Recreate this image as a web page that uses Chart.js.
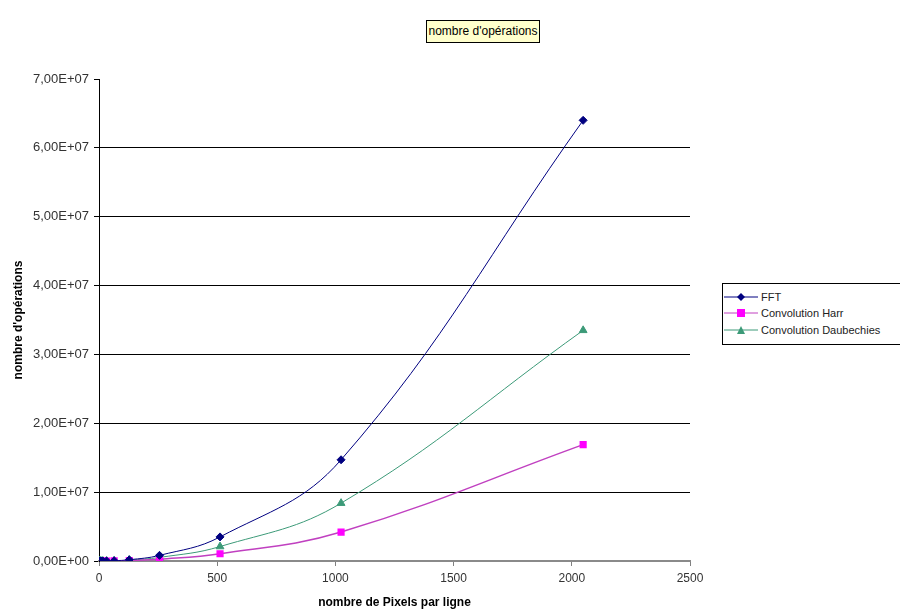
<!DOCTYPE html>
<html>
<head>
<meta charset="utf-8">
<script src="https://cdn.jsdelivr.net/npm/chart.js@4.4.0/dist/chart.umd.min.js"></script>
<style>
  body { margin: 0; background: #fff; }
  #wrap { position: relative; width: 900px; height: 614px; overflow: hidden; font-family: "Liberation Sans", Arial, sans-serif; }
  #titre { position: absolute; left: 426px; top: 20px; width: 112px; height: 21px; border: 1px solid #000; background: #ffffcc;
    font-size: 12px; line-height: 21px; text-align: center; color: #000; white-space: nowrap; }
  #legende { position: absolute; left: 722px; top: 283px; width: 200px; height: 60px; border: 1px solid #000; background: #fff; font-size: 11px; color: #222; }
  .item { position: absolute; left: 0; height: 14px; line-height: 14px; white-space: nowrap; }
  .item svg { position: absolute; left: 0; top: 0; }
  .item span { position: absolute; left: 38px; top: 0; }
</style>
</head>
<body>
<div id="wrap">
  <canvas id="graphique" width="900" height="614"></canvas>
  <div id="titre">nombre d'opérations</div>
  <div id="legende">
    <div class="item" style="top:6px"><svg width="36" height="14"><line x1="1" y1="7" x2="35" y2="7" stroke="#000080"/><polygon points="18,3 22,7 18,11 14,7" fill="#000080"/></svg><span>FFT</span></div>
    <div class="item" style="top:22px"><svg width="36" height="14"><line x1="1" y1="7" x2="35" y2="7" stroke="#c040c0"/><rect x="14" y="3" width="8" height="8" fill="#ff00ff"/></svg><span>Convolution Harr</span></div>
    <div class="item" style="top:39px"><svg width="36" height="14"><line x1="1" y1="7" x2="35" y2="7" stroke="#3c9a78"/><polygon points="18,3 22,11 14,11" fill="#3c9a78"/></svg><span>Convolution Daubechies</span></div>
  </div>
</div>
<script>
// nombre de pixels par ligne
const pixels = [2, 4, 8, 16, 32, 64, 128, 256, 512, 1024, 2048];
// nombre d'opérations
const fft = [20, 100, 450, 2000, 9000, 40000, 180000, 820000, 3500000, 14700000, 64000000];
const harr = [16, 64, 260, 1000, 4100, 16000, 66000, 260000, 1050000, 4200000, 16900000];
const daubechies = [32, 130, 520, 2000, 8200, 33000, 130000, 520000, 2100000, 8400000, 33500000];
const yTicks = [0, 10000000, 20000000, 30000000, 40000000, 50000000, 60000000, 70000000];
const xTicks = [0, 500, 1000, 1500, 2000, 2500];

function points(valeurs) {
  return pixels.map((p, i) => ({ x: p, y: valeurs[i] }));
}

function formatE(v) {
  if (v === 0) return '0,00E+00';
  const exp = Math.floor(Math.log10(v));
  const mant = v / Math.pow(10, exp);
  return mant.toFixed(2).replace('.', ',') + 'E+' + String(exp).padStart(2, '0');
}

const famille = '"Liberation Sans", Arial, sans-serif';

new Chart(document.getElementById('graphique'), {
  type: 'line',
  data: {
    datasets: [
      {
        label: 'FFT',
        data: points(fft),
        borderColor: '#000080',
        backgroundColor: '#000080',
        borderWidth: 1,
        pointStyle: 'rectRot',
        pointRadius: 4,
        tension: 0.4
      },
      {
        label: 'Convolution Harr',
        data: points(harr),
        borderColor: '#c040c0',
        backgroundColor: '#ff00ff',
        pointBorderColor: '#ff00ff',
        borderWidth: 1.5,
        pointStyle: 'rect',
        pointRadius: 4,
        tension: 0.4
      },
      {
        label: 'Convolution Daubechies',
        data: points(daubechies),
        borderColor: '#3c9a78',
        backgroundColor: '#3c9a78',
        borderWidth: 1,
        pointStyle: 'triangle',
        pointRadius: 4.5,
        tension: 0.4
      }
    ]
  },
  options: {
    responsive: false,
    animation: false,
    layout: { padding: { left: 0, top: 79, right: 210, bottom: 0 } },
    plugins: {
      legend: { display: false },
      tooltip: { enabled: false }
    },
    scales: {
      x: {
        type: 'linear',
        min: 0,
        max: 2500,
        afterFit: s => { s.height = 53; },
        afterBuildTicks: s => { s.ticks = xTicks.map(v => ({ value: v })); },
        ticks: { font: { family: famille, size: 12 }, color: '#333', padding: 5, maxRotation: 0, callback: v => String(v) },
        grid: { drawOnChartArea: false, drawTicks: true, tickLength: 5, tickColor: '#808080' },
        border: { color: '#8a8a8a', width: 2 },
        title: {
          display: true,
          text: 'nombre de Pixels par ligne',
          font: { family: famille, size: 12, weight: 'bold' },
          color: '#000',
          padding: { top: 0, bottom: 4 }
        }
      },
      y: {
        min: 0,
        max: 70000000,
        afterFit: s => { s.width = 99; },
        afterBuildTicks: s => { s.ticks = yTicks.map(v => ({ value: v })); },
        ticks: { font: { family: famille, size: 13 }, color: '#333', padding: 5, callback: v => formatE(v) },
        grid: {
          color: c => (c.tick && (c.tick.value === 70000000 || c.tick.value === 0)) ? 'rgba(0,0,0,0)' : '#000',
          tickColor: '#000',
          tickLength: 5,
          lineWidth: 1
        },
        border: { color: '#000', width: 1 },
        title: {
          display: true,
          text: "nombre d'opérations",
          font: { family: famille, size: 12, weight: 'bold' },
          color: '#000',
          padding: { top: 11, bottom: 0 }
        }
      }
    }
  }
});
</script>
</body>
</html>
